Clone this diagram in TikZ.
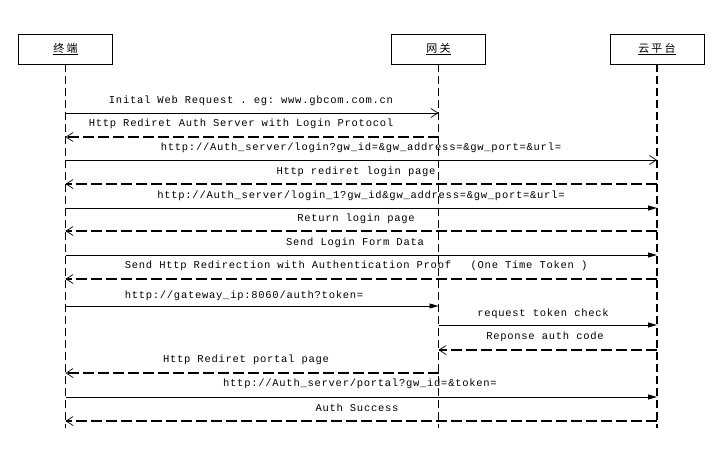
\documentclass[tikz,border=0pt]{standalone}
\usepackage{fontspec}
\setmonofont{Liberation Mono}[LetterSpace=7]
\newfontfamily\cjk{Noto Sans CJK SC}[LetterSpace=20]
\usetikzlibrary{arrows.meta}
\begin{document}
\begin{tikzpicture}[x=1pt,y=-1pt,
  actor/.style={draw,line width=0.8pt,minimum width=94pt,minimum height=30pt,inner sep=0pt,font=\cjk\fontsize{11}{11}\selectfont},
  life/.style={line width=1.8pt,dash pattern=on 8pt off 4pt},
  msg/.style={line width=0.8pt},
  ret/.style={line width=1.8pt,dash pattern=on 11pt off 4pt},
  openhead/.style={-{Straight Barb[length=7pt,width=9pt,line width=0.7pt]}},
  fillhead/.style={-{Triangle[length=9pt,width=5pt]}},
  lbl/.style={font=\ttfamily\fontsize{10.5}{10.5}\selectfont,inner sep=0pt,yshift=-1.5pt}]
\useasboundingbox (0,0) rectangle (724,455);
\node[actor] (t) at (65.5,49) {\underline{终端}};
\node[actor] (g) at (438.5,49) {\underline{网关}};
\node[actor] (c) at (657,49) {\underline{云平台}};
\coordinate (tb) at (66,428);
\coordinate (gb) at (438,428);
\coordinate (cb) at (657,428);
\draw[life] (t.south) -- (t.south|-tb);
\draw[life] (g.south) -- (g.south|-gb);
\draw[life] (c.south) -- (c.south|-cb);
% 1
\node[lbl] (l1) at (251,99) {Inital Web Request . eg: www.gbcom.com.cn};
\draw[msg,openhead] (t.south|-0,113) -- (g.south|-0,113);
% 2
\node[lbl] (l2) at (241,122) {Http Rediret Auth Server with Login Protocol};
\draw[ret,openhead] (g.south|-0,137) -- (t.south|-0,137);
% 3
\node[lbl] (l3) at (361,146) {http://Auth\_server/login?gw\_id=\&gw\_address=\&gw\_port=\&url=};
\draw[msg,openhead] (t.south|-0,160) -- (c.south|-0,160);
% 4
\node[lbl] (l4) at (356,170) {Http rediret login page};
\draw[ret,openhead] (c.south|-0,184) -- (t.south|-0,184);
% 5
\node[lbl] (l5) at (361,194) {http://Auth\_server/login\_1?gw\_id\&gw\_address=\&gw\_port=\&url=};
\draw[msg,fillhead] (t.south|-0,208) -- (c.south|-0,208);
% 6
\node[lbl] (l6) at (356,217) {Return login page};
\draw[ret,openhead] (c.south|-0,231) -- (t.south|-0,231);
% 7
\node[lbl] (l7) at (355,241) {Send Login Form Data};
\draw[msg,fillhead] (t.south|-0,255) -- (c.south|-0,255);
% 8
\node[lbl] (l8) at (288,264) {Send Http Redirection with Authentication Proof};
\node[lbl] (l8b) at (529,264) {(One Time Token )};
\draw[ret,openhead] (c.south|-0,279) -- (t.south|-0,279);
% 9
\node[lbl] (l9) at (244,294) {http://gateway\_ip:8060/auth?token=};
\draw[msg,fillhead] (t.south|-0,306) -- (g.south|-0,306);
% 10
\node[lbl] (l10) at (543,312) {request token check};
\draw[msg,fillhead] (g.south|-0,325) -- (c.south|-0,325);
% 11
\node[lbl] (l11) at (545,335) {Reponse auth code};
\draw[ret,openhead] (c.south|-0,350) -- (g.south|-0,350);
% 12
\node[lbl] (l12) at (246,358) {Http Rediret portal page};
\draw[ret,openhead] (g.south|-0,373) -- (t.south|-0,373);
% 13
\node[lbl] (l13) at (360,382) {http://Auth\_server/portal?gw\_id=\&token=};
\draw[msg,fillhead] (t.south|-0,397) -- (c.south|-0,397);
% 14
\node[lbl] (l14) at (357,406) {Auth Success};
\draw[ret,openhead] (c.south|-0,421) -- (t.south|-0,421);
\end{tikzpicture}
\end{document}
